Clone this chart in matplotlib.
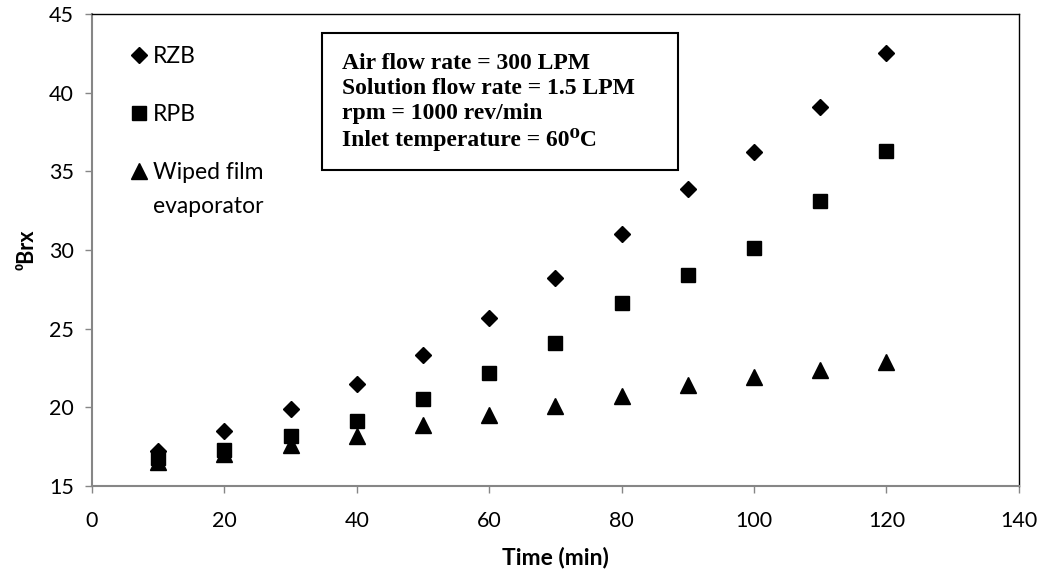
import matplotlib
matplotlib.use("Agg")
import matplotlib.pyplot as plt
from matplotlib.patches import Rectangle

# time (min)
time = [10, 20, 30, 40, 50, 60, 70, 80, 90, 100, 110, 120]

# Brix readings for each system
rzb = [17.2, 18.5, 19.9, 21.5, 23.3, 25.7, 28.2, 31.0, 33.9, 36.2, 39.1, 42.5]
rpb = [16.8, 17.3, 18.2, 19.1, 20.5, 22.2, 24.1, 26.6, 28.4, 30.1, 33.1, 36.3]
wiped = [16.5, 17.0, 17.6, 18.2, 18.9, 19.5, 20.1, 20.7, 21.4, 21.9, 22.4, 22.9]

xticks = [0, 20, 40, 60, 80, 100, 120, 140]
yticks = [15, 20, 25, 30, 35, 40, 45]

sans = ['Lato', 'DejaVu Sans']
serif = ['Liberation Serif', 'DejaVu Serif']
grey = '#868686'

fig = plt.figure(figsize=(10.46, 5.71), dpi=100)
ax = fig.add_axes([0.088, 0.149, 0.886, 0.8265])

ax.plot(time, rzb, 'D', color='black', markersize=8.5, label='RZB')
ax.plot(time, rpb, 's', color='black', markersize=10.5, label='RPB')
ax.plot(time, wiped, '^', color='black', markersize=11, label='Wiped film')

ax.set_xlim(0, 140)
ax.set_ylim(15, 45)
ax.set_xticks(xticks)
ax.set_yticks(yticks)

for side in ['left', 'bottom']:
    ax.spines[side].set_color(grey)
    ax.spines[side].set_linewidth(1.5)
for side in ['top', 'right']:
    ax.spines[side].set_color('black')
    ax.spines[side].set_linewidth(1.0)

ax.tick_params(direction='out', length=5, width=1, color=grey, labelsize=15.5)
ax.tick_params(axis='x', pad=13)
ax.tick_params(axis='y', pad=8)
for lab in ax.get_xticklabels() + ax.get_yticklabels():
    lab.set_family(sans)

ax.set_xlabel('Time (min)', fontsize=16.5, fontweight='bold', family=sans, labelpad=11)
ax.set_ylabel('\u2070Brx', fontsize=15.5, fontweight='bold', family=sans, labelpad=8)

# legend sits in the upper-left corner, second line of the last label added below
leg = ax.legend(loc='upper left', bbox_to_anchor=(0.03, 0.952), frameon=False,
                prop={'family': sans, 'size': 16.5}, handletextpad=0.15,
                handlelength=0.9, labelspacing=1.62, borderaxespad=0)
ax.text(0.0655, 0.592, 'evaporator', transform=ax.transAxes, va='center', ha='left',
        fontsize=16.5, family=sans)

# condition box
ax.add_patch(Rectangle((0.248, 0.669), 0.384, 0.291, transform=ax.transAxes,
                       facecolor='white', edgecolor='black', linewidth=1.5, zorder=3))
info = ('Air flow rate = 300 LPM\n'
        'Solution flow rate = 1.5 LPM\n'
        'rpm = 1000 rev/min\n'
        'Inlet temperature = 60\u2070C')
ax.text(0.270, 0.917, info, transform=ax.transAxes, va='top', ha='left',
        fontsize=17, fontweight='bold', family=serif, linespacing=1.23, zorder=4)

fig.savefig('out.png', dpi=100)
